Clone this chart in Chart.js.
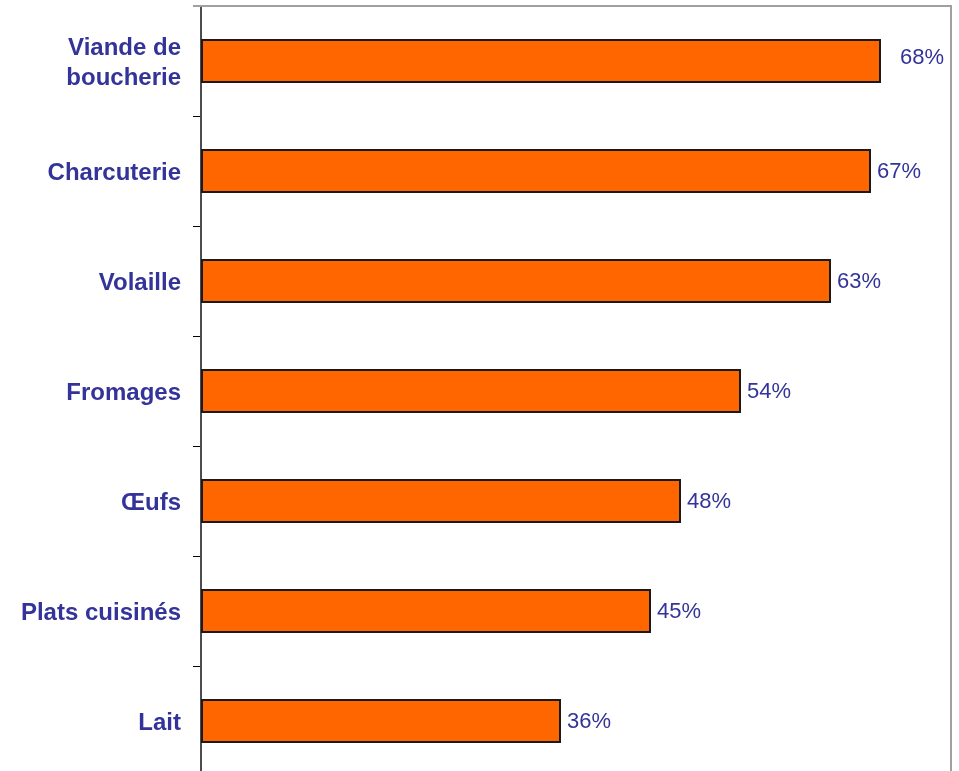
<!DOCTYPE html>
<html>
<head>
<meta charset="utf-8">
<script src="https://cdn.jsdelivr.net/npm/chart.js@4"></script>
<style>
    html, body { margin: 0; padding: 0; background: #fff; overflow: hidden; }
    canvas { display: block; }
</style>
</head>
<body>
<canvas id="foodChart" width="959" height="780"></canvas>
<script>
const categories = [['Viande de', 'boucherie'], 'Charcuterie', 'Volaille', 'Fromages', 'Œufs', 'Plats cuisinés', 'Lait'];
const percentages = [68, 67, 63, 54, 48, 45, 36];
const axisMax = 75;

const labelColor = '#333399';
const fontFamily = '"Liberation Sans", Arial, Helvetica, sans-serif';

// grey frame on top/right of the plot + the "xx%" labels after each bar
const frameAndLabels = {
    id: 'frameAndLabels',
    afterDatasetsDraw(chart) {
        const { ctx, chartArea } = chart;
        ctx.save();
        ctx.strokeStyle = '#a0a0a0';
        ctx.lineWidth = 2;
        ctx.beginPath();
        ctx.moveTo(chartArea.left - 8, chartArea.top);
        ctx.lineTo(chartArea.right, chartArea.top);
        ctx.lineTo(chartArea.right, chartArea.bottom);
        ctx.stroke();

        ctx.fillStyle = labelColor;
        ctx.font = '22px ' + fontFamily;
        ctx.textAlign = 'left';
        ctx.textBaseline = 'middle';
        chart.getDatasetMeta(0).data.forEach((bar, i) => {
            // the top label was nudged away from the bar end
            const dx = i === 0 ? 19 : 6;
            const dy = i === 0 ? -3 : 1;
            ctx.fillText(percentages[i] + '%', bar.x + dx, bar.y + dy);
        });
        ctx.restore();
    }
};

const ctx = document.getElementById('foodChart').getContext('2d');
const chart = new Chart(ctx, {
    type: 'bar',
    data: {
        labels: categories,
        datasets: [{
            data: percentages,
            backgroundColor: '#ff6600',
            borderColor: '#1a1a1a',
            borderWidth: 2,
            borderSkipped: false,
            barPercentage: 0.4,
            categoryPercentage: 1
        }]
    },
    options: {
        indexAxis: 'y',
        responsive: false,
        animation: false,
        layout: {
            padding: { top: 6, right: 8, bottom: 4, left: 0 }
        },
        plugins: {
            legend: { display: false },
            tooltip: { enabled: false }
        },
        scales: {
            x: {
                display: false,
                min: 0,
                max: axisMax
            },
            y: {
                afterFit: scale => {
                    scale.width = 201;
                    // labels sit inside their bands, no extra room needed above/below
                    scale.paddingTop = 0;
                    scale.paddingBottom = 0;
                },
                grid: {
                    offset: true,
                    drawOnChartArea: false,
                    drawTicks: true,
                    tickLength: 8,
                    color: '#000000',
                    lineWidth: 1
                },
                border: {
                    color: '#4d4d4d',
                    width: 2
                },
                ticks: {
                    color: labelColor,
                    padding: 12,
                    labelOffset: 2,
                    font: { family: fontFamily, size: 24, weight: 'bold', lineHeight: 1.26 }
                }
            }
        }
    },
    plugins: [frameAndLabels]
});
</script>
</body>
</html>
